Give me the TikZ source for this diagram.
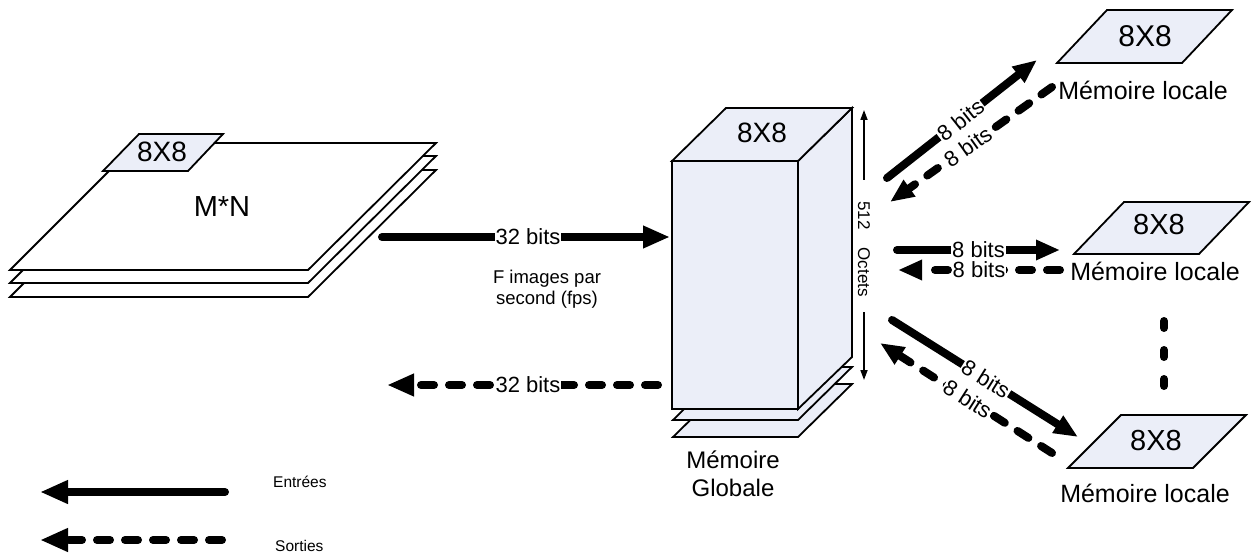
\documentclass[tikz,border=0pt]{standalone}
\usepackage{fontspec}
\setmainfont{Liberation Sans}
\usetikzlibrary{arrows.meta}
\definecolor{memfill}{RGB}{235,238,248}
\begin{document}
\begin{tikzpicture}[x=1pt,y=-1pt,
  plane/.style={draw=black,line width=1.8pt,line join=miter,fill=white},
  mem/.style={draw=black,line width=1.8pt,line join=miter,fill=memfill},
  bigarrow/.style={line width=8pt,line cap=round,-{Triangle[length=27pt,width=21pt]}},
  outarrow/.style={bigarrow,dash pattern=on 13pt off 15pt},
  thinarrow/.style={line width=1.6pt,-{Triangle[length=10pt,width=7pt]}},
  lbl/.style={fill=white,inner sep=1pt,font=\fontsize{22}{26}\selectfont},
  txt/.style={inner sep=0pt,anchor=base},
  eight/.style={txt,font=\fontsize{29}{34}\selectfont},
  loc/.style={txt,font=\fontsize{25}{30}\selectfont}]
\useasboundingbox (0,0) rectangle (1260,553);

% ---- left stack of images
\draw[plane] (10,297) -- (308,297) -- (436,170) -- (137,170) -- cycle;
\draw[plane] (10,283) -- (308,283) -- (436,156) -- (137,156) -- cycle;
\draw[plane] (10,270) -- (308,270) -- (436,143) -- (137,143) -- cycle;
\draw[mem] (103,171) -- (188,171) -- (223,134) -- (139,134) -- cycle;
\node[eight,font=\fontsize{28}{32}\selectfont] (lt) at (162,162) {8X8};
\node[txt,font=\fontsize{29}{34}\selectfont] (mn) at (222,217) {M*N};

% ---- global memory
\draw[mem] (673,437) -- (798,437) -- (852,384) -- (727,384) -- cycle;
\draw[mem] (673,420) -- (798,420) -- (852,367) -- (727,367) -- cycle;
\draw[mem] (798,161) -- (852,108) -- (852,357) -- (798,409) -- cycle;
\draw[mem] (672,161) -- (726,108) -- (852,108) -- (798,161) -- cycle;
\draw[mem] (672,161) rectangle (798,409);
\node[eight,font=\fontsize{28}{32}\selectfont] (gm) at (762,143) {8X8};
\node[txt,font=\fontsize{24}{28}\selectfont] (gml1) at (733,468) {Mémoire};
\node[txt,font=\fontsize{24}{28}\selectfont] (gml2) at (733,496) {Globale};

% 512 octets
\node[inner sep=0pt,rotate=-90,font=\fontsize{17}{20}\selectfont] (oct) at (864,249) {512\hspace{18pt}Octets};
\coordinate (octa) at (864,180);
\coordinate (octb) at (864,110);
\coordinate (octc) at (864,312);
\coordinate (octd) at (864,380);
\draw[thinarrow] (octa) -- (octb);
\draw[thinarrow] (octc) -- (octd);

% ---- local memories
\draw[mem] (1107,10) -- (1232,10) -- (1182,63) -- (1057,63) -- cycle;
\node[eight,font=\fontsize{30}{34}\selectfont] (lm1) at (1145,47) {8X8};
\node[loc] (lm1l) at (1143,100) {Mémoire locale};

\draw[mem] (1124,202) -- (1249,202) -- (1199,254) -- (1074,254) -- cycle;
\node[eight] (lm2) at (1159,235) {8X8};
\node[loc] (lm2l) at (1155,280) {Mémoire locale};

\draw[mem] (1121,415) -- (1246,415) -- (1193,468) -- (1068,468) -- cycle;
\node[eight] (lm3) at (1156,450) {8X8};
\node[loc] (lm3l) at (1145,502) {Mémoire locale};

\coordinate (dotsa) at (1164,321);
\coordinate (dotsb) at (1164,386);
\draw[line width=8pt,line cap=round,dash pattern=on 7pt off 22pt] (dotsa) -- (dotsb);

% ---- main input / output
\coordinate (ina) at (382,237);
\coordinate (inb) at (670,237);
\draw[bigarrow] (ina) -- node[lbl,pos=0.507] (in32) {32 bits} (inb);
\node[align=center,inner sep=0pt,font=\fontsize{18.5}{21}\selectfont] (fps) at (547,289) {F images par\\second (fps)};

\coordinate (outa) at (658,385);
\coordinate (outb) at (387,385);
\draw[outarrow] (outa) -- node[lbl,pos=0.48] (out32) {32 bits} (outb);

% ---- arrows to/from local memories
\coordinate (t1a) at (887,178);
\coordinate (t1b) at (1037,60);
\draw[bigarrow,-{Triangle[length=24pt,width=19pt]}] (t1a) -- node[lbl,sloped,pos=0.49] (t1l) {8 bits} (t1b);
\coordinate (t2a) at (1052,87);
\coordinate (t2b) at (890,202);
\draw[outarrow,-{Triangle[length=24pt,width=19pt]}] (t2a) -- node[lbl,sloped,pos=0.52] (t2l) {8 bits} (t2b);

\coordinate (m1a) at (897,250);
\coordinate (m1b) at (1060,250);
\draw[bigarrow,-{Triangle[length=24pt,width=19pt]}] (m1a) -- node[lbl,pos=0.5] (m1l) {8 bits} (m1b);
\coordinate (m2a) at (1060,270);
\coordinate (m2b) at (898,270);
\draw[outarrow,-{Triangle[length=24pt,width=19pt]}] (m2a) -- node[lbl,pos=0.5] (m2l) {8 bits} (m2b);

\coordinate (b1a) at (892,320);
\coordinate (b1b) at (1078,437);
\draw[bigarrow,-{Triangle[length=24pt,width=19pt]}] (b1a) -- node[lbl,sloped,pos=0.505] (b1l) {8 bits} (b1b);
\coordinate (b2a) at (1052,453);
\coordinate (b2b) at (880,343);
\draw[outarrow,-{Triangle[length=24pt,width=19pt]}] (b2a) -- node[lbl,sloped,pos=0.49] (b2l) {8 bits} (b2b);

% ---- legend
\coordinate (lga) at (225,492);
\coordinate (lgb) at (40,492);
\draw[bigarrow,-{Triangle[length=28pt,width=22pt]}] (lga) -- (lgb);
\node[txt,anchor=base west,font=\fontsize{15.5}{18}\selectfont] (ent) at (273,487) {Entrées};
\coordinate (lgc) at (222,540);
\coordinate (lgd) at (40,540);
\draw[outarrow,-{Triangle[length=28pt,width=22pt]}] (lgc) -- (lgd);
\node[txt,anchor=base west,font=\fontsize{15.5}{18}\selectfont] (sor) at (275,551) {Sorties};
\end{tikzpicture}
\end{document}
